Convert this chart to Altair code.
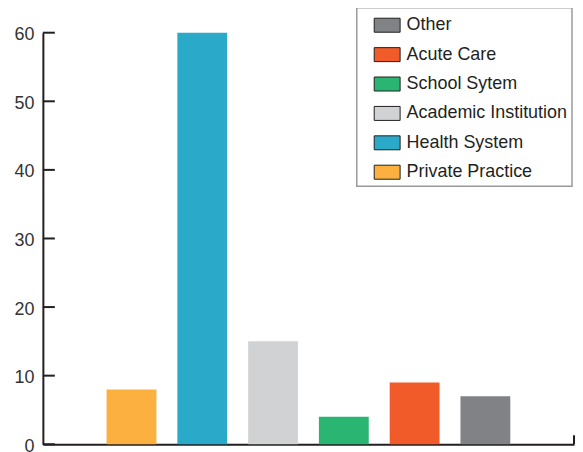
import altair as alt
import pandas as pd

categories = ["Private Practice", "Health System", "Academic Institution", "School Sytem", "Acute Care", "Other"]
values = [8, 60, 15, 4, 9, 7]
colors = ["#FBB040", "#2BA9C9", "#D1D2D4", "#2BB573", "#F15A29", "#808285"]
legend_order = ["Other", "Acute Care", "School Sytem", "Academic Institution", "Health System", "Private Practice"]
y_ticks = [0, 10, 20, 30, 40, 50, 60]

df = pd.DataFrame({"category": categories, "value": values})
ticks_df = pd.DataFrame({"v": y_ticks})

color_map = dict(zip(categories, colors))
legend_colors = [color_map[c] for c in legend_order]

W, H = 533, 413
FONT = "Liberation Sans"
INK = "#231f20"

bars = alt.Chart(df).mark_bar().encode(
    x=alt.X("category:N", sort=categories,
            scale=alt.Scale(paddingInner=0.296, paddingOuter=0.9),
            axis=alt.Axis(title=None, labels=False, ticks=False, domain=True,
                          domainColor=INK, domainWidth=2)),
    y=alt.Y("value:Q", scale=alt.Scale(domain=[0, 60], nice=False),
            axis=alt.Axis(title=None, values=y_ticks, ticks=False, grid=False,
                          domainColor=INK, domainWidth=2, labelFont=FONT,
                          labelFontSize=18, labelColor="#333333", labelPadding=9,
                          labelOffset=2)),
    color=alt.Color("category:N",
                    scale=alt.Scale(domain=legend_order, range=legend_colors),
                    legend=alt.Legend(
                        title=None, orient="none", legendX=315, legendY=-25,
                        symbolType="M-1,-0.54L1,-0.54L1,0.54L-1,0.54Z",
                        symbolSize=676, symbolStrokeColor=INK, symbolStrokeWidth=1,
                        symbolOffset=13, labelOffset=6, labelLimit=400,
                        labelFont=FONT, labelFontSize=18, labelColor=INK,
                    )),
)

tick_marks = alt.Chart(ticks_df).mark_rule(color=INK, strokeWidth=2).encode(
    y=alt.Y("v:Q"),
    x=alt.value(0),
    x2=alt.value(12),
)

end_tick = alt.Chart(pd.DataFrame({"a": [0]})).mark_rule(color=INK, strokeWidth=2).encode(
    x=alt.value(W),
    y=alt.value(H),
    y2=alt.value(H - 9),
)

chart = alt.layer(bars, tick_marks, end_tick).properties(
    width=W, height=H,
    padding={"left": 5, "top": -2, "right": 0, "bottom": 0},
).configure_view(stroke=None).configure_legend(
    rowPadding=6.5, padding=4, strokeColor="#9a9a9a", strokeWidth=1.5,
)

chart.save("out.html", embed_options={"renderer": "svg", "actions": False})
